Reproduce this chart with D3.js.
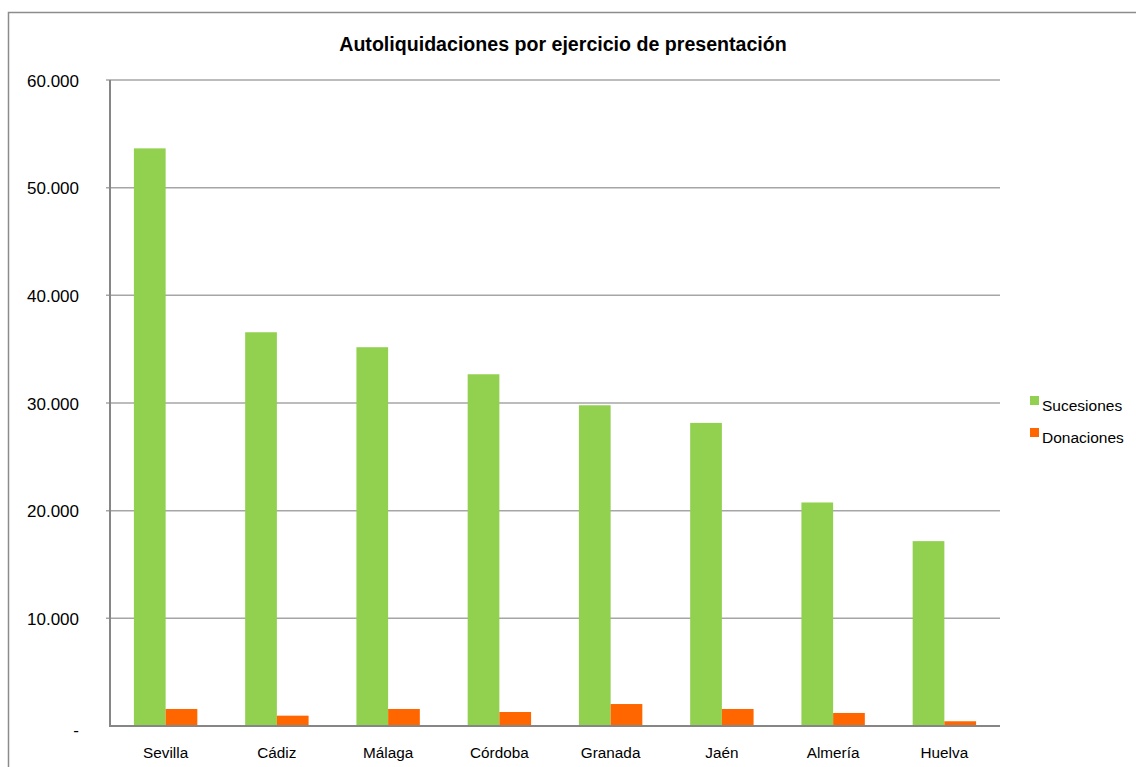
<!DOCTYPE html>
<html>
<head>
<meta charset="utf-8">
<script src="https://cdn.jsdelivr.net/npm/d3@7"></script>
<style>
  body { margin: 0; background: #fff; }
  svg { display: block; }
</style>
</head>
<body>
<div id="chart"></div>
<script>
// data
const provincias = ['Sevilla', 'Cádiz', 'Málaga', 'Córdoba', 'Granada', 'Jaén', 'Almería', 'Huelva'];
const sucesiones = [53650, 36570, 35180, 32670, 29790, 28150, 20760, 17170];
const donaciones = [1580, 960, 1580, 1300, 2040, 1580, 1210, 440];
const seriesNames = ['Sucesiones', 'Donaciones'];
const yTicks = [0, 10000, 20000, 30000, 40000, 50000, 60000];

const W = 1136, H = 767;
const margin = { top: 80, right: 136, bottom: 41, left: 110 },
    width = W - margin.left - margin.right,
    height = H - margin.top - margin.bottom;
const colors = ['#92D050', '#FF6600'];

const svg = d3.select('#chart').append('svg')
    .attr('width', W)
    .attr('height', H);

// outer chart border (runs off the window on right/bottom)
svg.append('rect')
    .attr('x', 8.5).attr('y', 12.5)
    .attr('width', W + 20).attr('height', H + 20)
    .attr('fill', 'none')
    .attr('stroke', '#8c8c8c')
    .attr('stroke-width', 1.5);

svg.append('text')
    .attr('x', 563).attr('y', 51)
    .attr('text-anchor', 'middle')
    .style('font-family', '"Liberation Sans Narrow", "Liberation Sans", Arial, sans-serif')
    .style('font-weight', 'bold')
    .style('font-size', '19.6px')
    .attr('fill', '#000')
    .text('Autoliquidaciones por ejercicio de presentación');

const g = svg.append('g')
    .attr('transform', 'translate(' + margin.left + ',' + margin.top + ')');

const x0 = d3.scaleBand().domain(provincias).range([0, width]).paddingInner(0.43).paddingOuter(0.215);
const x1 = d3.scaleBand().domain(seriesNames).range([0, x0.bandwidth()]);
const y = d3.scaleLinear().domain([0, 60000]).range([height, 0]);

const fmt = v => v === 0 ? '-' : d3.format(',')(v).replace(/,/g, '.');

// gridlines
g.append('g')
    .selectAll('line')
    .data(yTicks.slice(1))
    .enter().append('line')
    .attr('x1', -4).attr('x2', width)
    .attr('y1', d => y(d)).attr('y2', d => y(d))
    .attr('stroke', '#a6a6a6')
    .attr('stroke-width', 1.5);

// y labels
g.append('g')
    .selectAll('text')
    .data(yTicks)
    .enter().append('text')
    .attr('x', -31)
    .attr('y', d => y(d))
    .attr('dy', d => d === 0 ? '0.6em' : '0.4em')
    .attr('text-anchor', 'end')
    .style('font-family', '"Liberation Sans", Arial, sans-serif')
    .style('font-size', '17px')
    .attr('fill', '#000')
    .text(fmt);

// bars
const rows = provincias.map((p, i) => ({ cat: p, vals: [sucesiones[i], donaciones[i]] }));
const groups = g.selectAll('.grp')
    .data(rows)
    .enter().append('g')
    .attr('class', 'grp')
    .attr('transform', d => 'translate(' + x0(d.cat) + ',0)');

groups.selectAll('rect')
    .data(d => d.vals.map((v, j) => ({ key: seriesNames[j], value: v, j: j })))
    .enter().append('rect')
    .attr('x', d => x1(d.key))
    .attr('width', x1.bandwidth())
    .attr('y', d => y(d.value))
    .attr('height', d => height - y(d.value))
    .attr('fill', d => colors[d.j]);

// axes lines
g.append('line')
    .attr('x1', 0).attr('x2', 0).attr('y1', 0).attr('y2', height + 1)
    .attr('stroke', '#868686').attr('stroke-width', 2);
g.append('line')
    .attr('x1', 0).attr('x2', width).attr('y1', height).attr('y2', height)
    .attr('stroke', '#868686').attr('stroke-width', 2);

// x labels
g.append('g')
    .selectAll('text')
    .data(provincias)
    .enter().append('text')
    .attr('x', d => x0(d) + x0.bandwidth() / 2)
    .attr('y', height + 32)
    .attr('text-anchor', 'middle')
    .style('font-family', '"Liberation Sans", Arial, sans-serif')
    .style('font-size', '15.3px')
    .attr('fill', '#000')
    .text(d => d);

// legend
const legend = svg.append('g')
    .attr('transform', 'translate(1030,396)');
seriesNames.forEach((s, i) => {
    legend.append('rect')
        .attr('x', 0).attr('y', i * 32)
        .attr('width', 9).attr('height', 9)
        .attr('fill', colors[i]);
    legend.append('text')
        .attr('x', 12).attr('y', i * 32 + 15)
        .style('font-family', '"Liberation Sans", Arial, sans-serif')
        .style('font-size', '15.5px')
        .attr('fill', '#000')
        .text(s);
});
</script>
</body>
</html>
